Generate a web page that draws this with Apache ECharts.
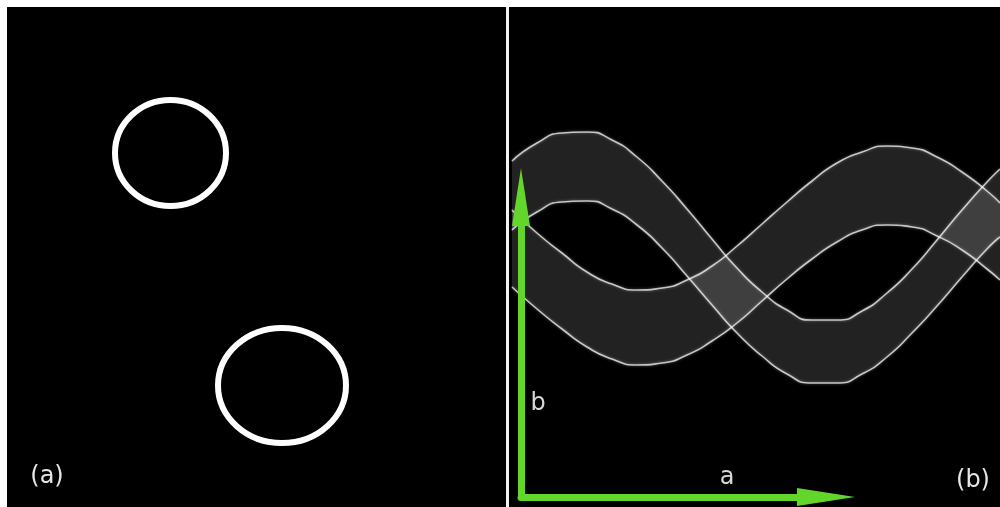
<!DOCTYPE html>
<html>
<head>
<meta charset="utf-8">
<script src="https://cdn.jsdelivr.net/npm/echarts@6/dist/echarts.min.js"></script>
<style>
  html, body { margin: 0; padding: 0; background: #000; }
  #houghChart { width: 1000px; height: 507px; }
</style>
</head>
<body>
<div id="houghChart"></div>
<script>
// (a) image space: the two circles (centre, radii) in panel units
const circleCx = [163.5, 275];
const circleCy = [146, 378.5];
const circleRx = [55.5, 64];
const circleRy = [53, 57.5];

// (b) accumulator space, edges of both sinusoid bands sampled along a
const aSamples = [0, 25, 50, 75, 100, 125, 150, 175, 200, 225, 250, 275, 300, 325, 350, 375, 400, 425, 450, 475, 488];
const band1Top = [154, 136, 126, 125, 133, 150, 174, 202, 232, 261, 285, 303, 313, 313, 304, 286, 262, 233, 203, 175, 162];
const band1Bottom = [223, 205, 195, 194, 202, 218, 241, 269, 298, 326, 349, 367, 376, 376, 367, 350, 326, 299, 270, 242, 230];
const band2Top = [203, 226, 246, 265, 277, 283, 281, 273, 259, 239, 217, 195, 174, 156, 145, 139, 141, 150, 165, 184, 196];
const band2Bottom = [280, 302, 322, 340, 352, 358, 356, 348, 334, 316, 294, 272, 252, 235, 223, 218, 220, 229, 243, 262, 273];

const panelLabels = ['(a)', '(b)'];
const axisNames = ['a', 'b'];

const green = '#62d62a';
const labelFont = '24px "DejaVu Sans", sans-serif';

function hiddenAxis(gridIndex, min, max, inverse) {
  return {type: 'value', gridIndex: gridIndex, min: min, max: max, inverse: !!inverse, show: false};
}

function arrowAxis(gridIndex) {
  return {
    type: 'value', gridIndex: gridIndex, min: 0, max: 1, z: 10,
    axisLine: {
      show: true,
      symbol: ['none', 'triangle'],
      symbolSize: [18, 58],
      lineStyle: {color: green, width: 7}
    },
    axisTick: {show: false},
    axisLabel: {show: false},
    splitLine: {show: false}
  };
}

// data is [b, a] so the stack runs on b (y), the band bottom is top + thickness
function bandSeries(top, bottom, stackName) {
  const edge = {color: 'rgba(255,255,255,0.72)', width: 1.6, shadowColor: 'rgba(255,255,255,0.5)', shadowBlur: 3};
  return [
    {
      type: 'line', xAxisIndex: 1, yAxisIndex: 1, stack: stackName,
      encode: {x: 1, y: 0},
      data: aSamples.map((a, i) => [top[i], a]),
      smooth: 0.6, symbol: 'none', silent: true,
      lineStyle: edge
    },
    {
      type: 'line', xAxisIndex: 1, yAxisIndex: 1, stack: stackName,
      encode: {x: 1, y: 0},
      data: aSamples.map((a, i) => [bottom[i] - top[i], a]),
      smooth: 0.6, symbol: 'none', silent: true,
      lineStyle: edge,
      areaStyle: {color: 'rgba(255,255,255,0.19)'}
    }
  ];
}

let option = {
  backgroundColor: '#000',
  animation: false,
  grid: [
    {left: 7, top: 7, width: 499, height: 500},
    {left: 512, top: 7, width: 488, height: 500},
    {left: 521, top: 197, width: 305, height: 300}
  ],
  xAxis: [hiddenAxis(0, 0, 499), hiddenAxis(1, 0, 488), arrowAxis(2)],
  yAxis: [hiddenAxis(0, 0, 500, true), hiddenAxis(1, 0, 500, true), arrowAxis(2)],
  graphic: [
    {type: 'rect', shape: {x: 0, y: 0, width: 1000, height: 7}, style: {fill: '#fff'}},
    {type: 'rect', shape: {x: 0, y: 0, width: 7, height: 507}, style: {fill: '#fff'}},
    {type: 'rect', shape: {x: 506, y: 7, width: 3, height: 500}, style: {fill: '#f2f2f2'}},
    {type: 'text', x: 47, y: 477, style: {text: panelLabels[0], font: labelFont, fill: '#e6e6e6', align: 'center', verticalAlign: 'middle'}},
    {type: 'text', x: 973, y: 481, style: {text: panelLabels[1], font: labelFont, fill: '#e6e6e6', align: 'center', verticalAlign: 'middle'}},
    {type: 'text', x: 727, y: 478, style: {text: axisNames[0], font: labelFont, fill: '#d8d8d8', align: 'center', verticalAlign: 'middle'}},
    {type: 'text', x: 538, y: 404, style: {text: axisNames[1], font: labelFont, fill: '#d8d8d8', align: 'center', verticalAlign: 'middle'}}
  ],
  series: [
    {
      type: 'custom', xAxisIndex: 0, yAxisIndex: 0,
      data: circleCx.map((cx, i) => [cx, circleCy[i], circleRx[i], circleRy[i]]),
      renderItem: function (params, api) {
        const c = api.coord([api.value(0), api.value(1)]);
        const s = api.size([api.value(2), api.value(3)]);
        return {
          type: 'ellipse',
          shape: {cx: c[0], cy: c[1], rx: Math.abs(s[0]), ry: Math.abs(s[1])},
          style: {fill: 'none', stroke: '#fff', lineWidth: 6}
        };
      }
    }
  ].concat(bandSeries(band1Top, band1Bottom, 'band1'), bandSeries(band2Top, band2Bottom, 'band2'))
};

let houghChart = echarts.init(document.getElementById('houghChart'));
houghChart.setOption(option);
</script>
</body>
</html>
